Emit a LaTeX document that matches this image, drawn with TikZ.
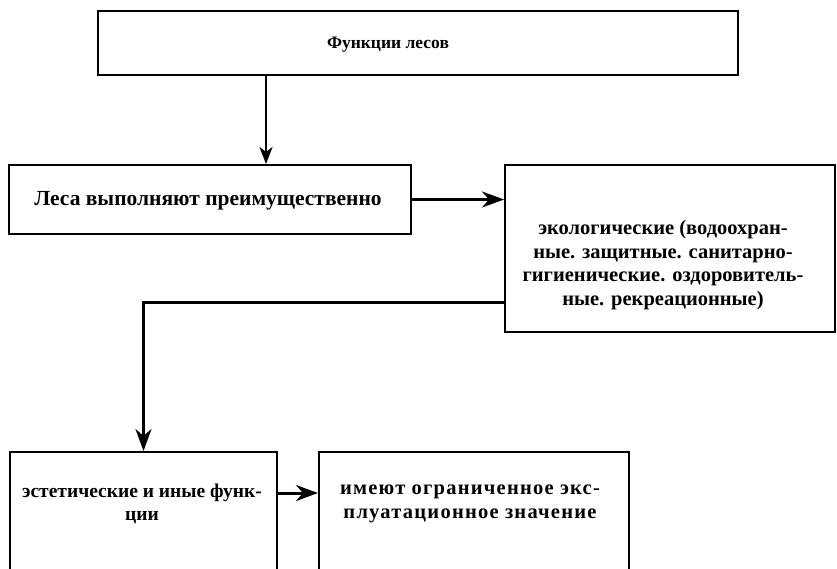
\documentclass[tikz,border=0pt]{standalone}
\usepackage{fontspec}
\setmainfont{Liberation Serif}
\usetikzlibrary{arrows.meta,calc}
\begin{document}
\begin{tikzpicture}[x=1pt,y=-1pt,
  box/.style={draw=black,line width=2pt,rectangle,inner sep=0pt},
  txt/.style={align=center,inner sep=0pt,font=\fontsize{20.5}{23.5}\selectfont\bfseries},
  arr/.style={line width=3pt,-{Stealth[length=22pt,width=16pt,inset=7pt]}},
  thinarr/.style={line width=2.2pt,-{Stealth[length=17pt,width=13pt,inset=5pt]}}]
\clip (0,0) rectangle (837,568);
\fill[white] (0,0) rectangle (837,568);
% boxes
\node[box,minimum width=640pt,minimum height=64pt] (top) at (418,43) {};
\node[box,minimum width=402pt,minimum height=69pt] (les) at (210,199.5) {};
\node[box,minimum width=330pt,minimum height=167pt] (eco) at (670,248.5) {};
\node[box,minimum width=267pt,minimum height=140pt] (est) at (143.5,522) {};
\node[box,minimum width=310pt,minimum height=140pt] (lim) at (474,522) {};
% texts
\node[txt,font=\fontsize{17.5}{20}\selectfont\bfseries] (toptext) at (388,45) {Функции лесов};
\node[txt,font=\fontsize{21.5}{24}\selectfont\bfseries] (lestext) at (208,201) {Леса выполняют преимущественно};
\node[txt] (ecotext) at (663,265) {экологические (водоохран-\\ные. защитные. санитарно-\\гигиенические. оздоровитель-\\ные. рекреационные)};
\node[txt,font=\fontsize{19.5}{23.5}\selectfont\bfseries] (esttext) at (142,504) {эстетические и иные функ-\\ции};
\node[txt,font=\fontsize{20.5}{23.5}\selectfont\bfseries\addfontfeature{LetterSpace=6}] (limtext) at (470,504) {имеют ограниченное экс-\\плуатационное значение};
% connectors
\coordinate (c1) at (266,0);
\coordinate (c2) at (0,302);
\coordinate (c3) at (0,493);
\draw[thinarr] (top.south -| c1) -- (les.north -| c1);
\draw[arr] (les.east) -- (eco.west |- les.east);
\draw[arr] (eco.west |- c2) -| (est.north);
\draw[arr] (est.east |- c3) -- (lim.west |- c3);
\end{tikzpicture}
\end{document}
